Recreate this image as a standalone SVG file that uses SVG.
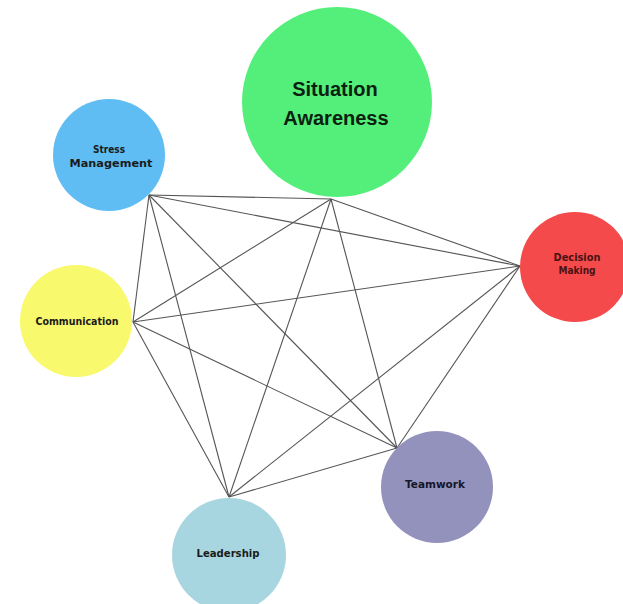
<svg xmlns="http://www.w3.org/2000/svg" width="623" height="604" viewBox="0 0 623 604">
<style>
.lbl{font-family:"DejaVu Sans","Liberation Sans",sans-serif;font-weight:bold;font-size:11px;text-anchor:middle;fill:#1b1b1b}
.big{font-family:"Liberation Sans","DejaVu Sans",sans-serif;font-weight:bold;font-size:20px;text-anchor:middle;fill:#0c200f}
.edge{stroke:#555;stroke-width:1.1;fill:none}
</style>
<rect width="623" height="604" fill="#ffffff"/>
<g id="connectors">
<line class="edge" x1="149" y1="195" x2="331" y2="199"/>
<line class="edge" x1="149" y1="195" x2="520" y2="266"/>
<line class="edge" x1="149" y1="195" x2="133" y2="322"/>
<line class="edge" x1="149" y1="195" x2="397" y2="448"/>
<line class="edge" x1="149" y1="195" x2="229" y2="497"/>
<line class="edge" x1="331" y1="199" x2="520" y2="266"/>
<line class="edge" x1="331" y1="199" x2="133" y2="322"/>
<line class="edge" x1="331" y1="199" x2="397" y2="448"/>
<line class="edge" x1="331" y1="199" x2="229" y2="497"/>
<line class="edge" x1="133" y1="322" x2="520" y2="266"/>
<line class="edge" x1="133" y1="322" x2="397" y2="448"/>
<line class="edge" x1="133" y1="322" x2="229" y2="497"/>
<line class="edge" x1="520" y1="266" x2="397" y2="448"/>
<line class="edge" x1="520" y1="266" x2="229" y2="497"/>
<line class="edge" x1="397" y1="448" x2="229" y2="497"/>
</g>
<g id="situation-awareness">
<circle cx="337" cy="102" r="95" fill="#54EF7A"/>
<text class="big" x="335" y="96">Situation</text>
<text class="big" x="336" y="125">Awareness</text>
</g>
<g id="stress-management">
<circle cx="109" cy="155" r="56" fill="#5FBDF3"/>
<text class="lbl" x="109" y="153" textLength="32" lengthAdjust="spacingAndGlyphs">Stress</text>
<text class="lbl" x="111" y="167" textLength="83" lengthAdjust="spacingAndGlyphs">Management</text>
</g>
<g id="communication">
<circle cx="76" cy="321" r="56" fill="#F9F96E"/>
<text class="lbl" x="77" y="325" textLength="83" lengthAdjust="spacingAndGlyphs">Communication</text>
</g>
<g id="decision-making">
<circle cx="575" cy="267" r="55" fill="#F44A4B"/>
<text class="lbl" x="577" y="261" textLength="47" lengthAdjust="spacingAndGlyphs" style="fill:#4a1212">Decision</text>
<text class="lbl" x="577" y="274" textLength="37" lengthAdjust="spacingAndGlyphs" style="fill:#4a1212">Making</text>
</g>
<g id="teamwork">
<circle cx="437" cy="487" r="56" fill="#9292BD"/>
<text class="lbl" x="435" y="488" textLength="60" lengthAdjust="spacingAndGlyphs" style="fill:#161628">Teamwork</text>
</g>
<g id="leadership">
<circle cx="229" cy="555" r="57" fill="#A8D6E0"/>
<text class="lbl" x="228" y="557" textLength="63" lengthAdjust="spacingAndGlyphs">Leadership</text>
</g>
</svg>
